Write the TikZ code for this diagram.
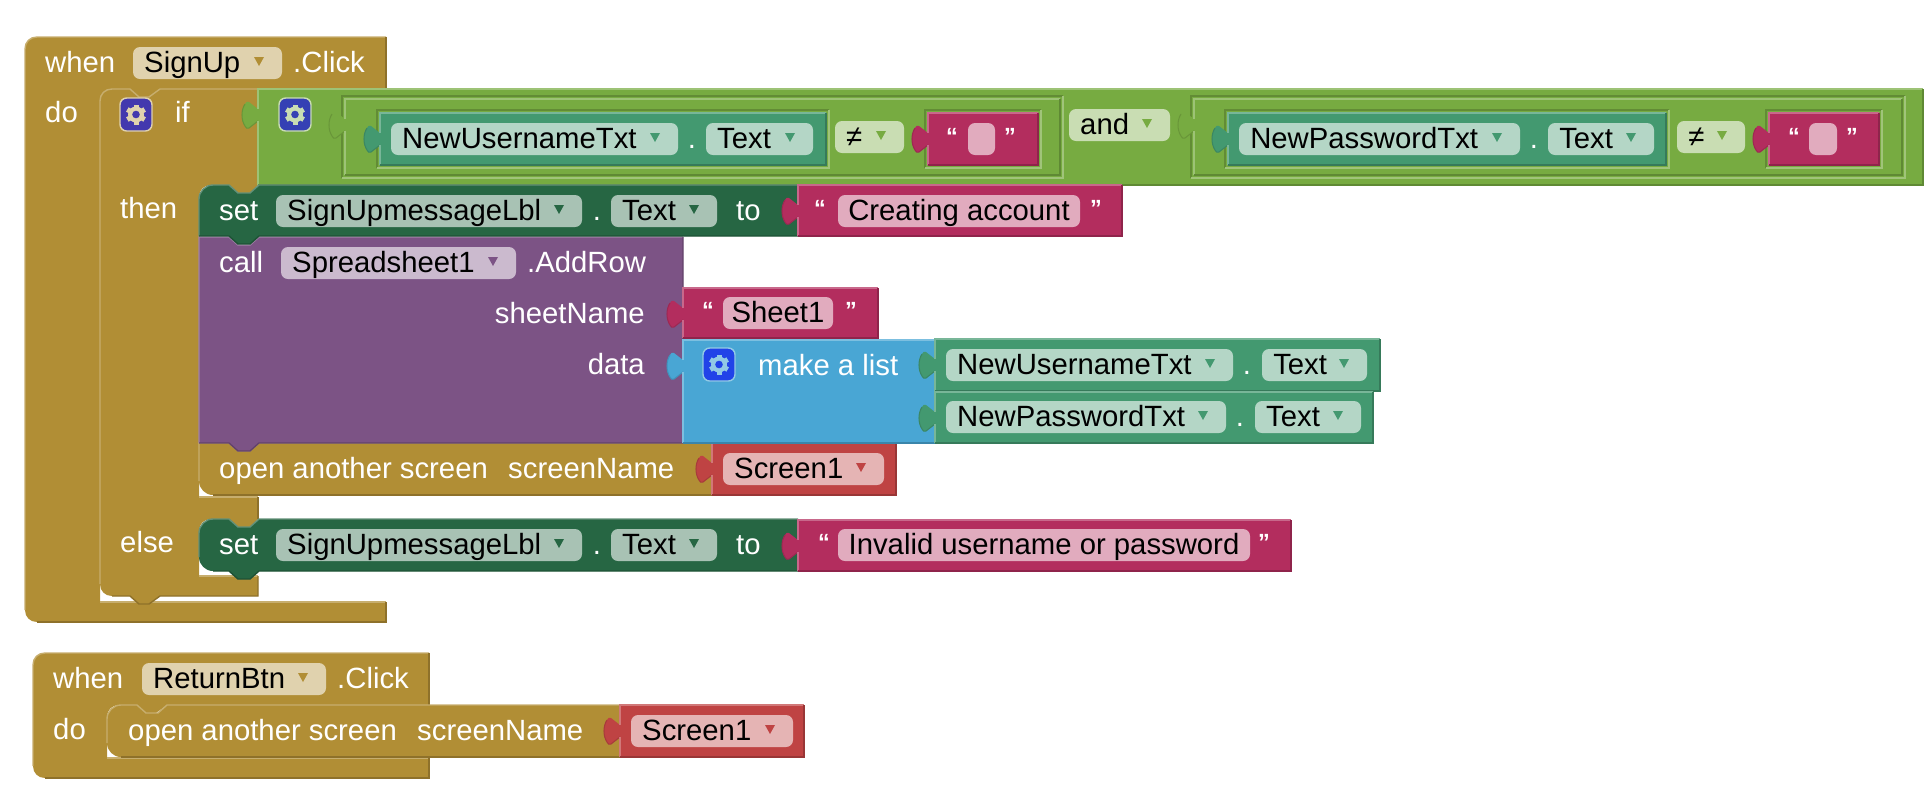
\documentclass[tikz,border=0pt]{standalone}
\usepackage{fontspec}
\setmainfont{Liberation Sans}

\definecolor{ctrlbrown}{HTML}{B18E35}
\definecolor{logicgreen}{HTML}{77AB41}
\definecolor{getteal}{HTML}{439970}
\definecolor{setgreen}{HTML}{266643}
\definecolor{textpink}{HTML}{B32D5E}
\definecolor{callpurple}{HTML}{7C5385}
\definecolor{listblue}{HTML}{49A6D4}
\definecolor{screenred}{HTML}{BF4343}
\definecolor{gearviolet}{HTML}{4338AE}
\definecolor{gearindigo}{HTML}{3540B4}
\definecolor{gearblue}{HTML}{2143E8}

% one value block with its puzzle tab on the left edge
\newcommand{\valblock}[5]{%
  \fill[#5] (#1,#2) -- (#3,#2) -- (#3,#4) -- (#1,#4) -- (#1,#2+32)
    -- (#1-9,#2+39) .. controls (#1-11,#2+40) and (#1-12,#2+39) .. (#1-13,#2+37)
    .. controls (#1-17,#2+31) and (#1-17,#2+21) .. (#1-13,#2+15)
    .. controls (#1-12,#2+13) and (#1-11,#2+12) .. (#1-9,#2+13) -- (#1,#2+20) -- cycle;
  \draw[softbevel, #5!88!black] (#1,#2+32)
    -- (#1-9,#2+39) .. controls (#1-11,#2+40) and (#1-12,#2+39) .. (#1-13,#2+37)
    .. controls (#1-17,#2+31) and (#1-17,#2+21) .. (#1-13,#2+15);
  \draw[bevel, #5!72!white] (#1,#2+20) -- (#1,#2) -- (#3,#2);
  \draw[bevel, #5!72!white] (#1,#2+32) -- (#1,#4);
  \draw[bevel, #5!80!black] (#3,#2) -- (#3,#4) -- (#1,#4);
}
% the inset round a value block plugged into a row
\newcommand{\socket}[5]{%
  \draw[softbevel, #5!82!black] (#1-3,#4+3) -- (#1-3,#2-3) -- (#3+3,#2-3);
  \draw[softbevel, #5!70!white] (#3+3,#2-3) -- (#3+3,#4+3) -- (#1-3,#4+3);
}
% statement block: x0,y0,x1,y1,colour,top radius,bottom radius,lobe depth
\newcommand{\stmtblock}[8]{%
  \fill[#5] (#1,#2+#6) .. controls (#1,#2+0.45*#6) and (#1+0.45*#6,#2) .. (#1+#6,#2)
    -- (#1+30,#2) -- (#1+39,#2+8) -- (#1+51,#2+8) -- (#1+60,#2) -- (#3,#2) -- (#3,#4)
    -- (#1+60,#4) -- (#1+51,#4+#8) -- (#1+39,#4+#8) -- (#1+30,#4) -- (#1+#7,#4)
    .. controls (#1+0.45*#7,#4) and (#1,#4-0.45*#7) .. (#1,#4-#7) -- cycle;
  \draw[bevel, #5!72!white] (#1,#4-#7) -- (#1,#2+#6)
    .. controls (#1,#2+0.45*#6) and (#1+0.45*#6,#2) .. (#1+#6,#2)
    -- (#1+30,#2) -- (#1+39,#2+8) -- (#1+51,#2+8) -- (#1+60,#2) -- (#3,#2);
  \draw[bevel, #5!80!black] (#3,#2) -- (#3,#4)
    -- (#1+60,#4) -- (#1+51,#4+#8) -- (#1+39,#4+#8) -- (#1+30,#4) -- (#1+#7,#4);
}
% dropdown field: name,x0,top,x1,text,fill,arrow colour
\newcommand{\field}[7]{%
  \fill[#6, rounded corners=0.21cm] (#2,#3) rectangle (#4,#3+32);
  \node[fieldtxt] (#1) at (#2+11,#3+25) {#5};
  \fill[#7] (#4-28,#3+10) -- (#4-18,#3+10) -- (#4-23,#3+19) -- cycle;
}
% string field: name,left quote,top,x0,x1,right quote,text
\newcommand{\strfield}[7]{%
  \fill[pinkfield, rounded corners=0.21cm] (#4,#3) rectangle (#5,#3+32);
  \node[fieldtxt, anchor=base] (#1) at ({(#4+#5)/2},#3+25) {#7};
  \node[quotetxt] (#1L) at (#2,#3+21) {“};
  \node[quotetxt] (#1R) at (#6,#3+21) {”};
}
% mutator button: x0,y0,fill,cog colour
\newcommand{\gearbtn}[4]{%
  \fill[#3, draw=#4, line width=1.2pt, rounded corners=0.2cm] (#1,#2) rectangle (#1+32,#2+33);
  \foreach \aa in {0,60,120} {
    \fill[#4, rotate around={\aa:(#1+16,#2+16.5)}] (#1+13.5,#2+6.5) rectangle (#1+18.5,#2+26.5);
  }
  \fill[#4] (#1+16,#2+16.5) circle[radius=8];
  \fill[#3] (#1+16,#2+16.5) circle[radius=3.8];
}

\colorlet{brownfield}{ctrlbrown!40!white}
\colorlet{greenfield}{logicgreen!40!white}
\colorlet{tealfield}{getteal!40!white}
\colorlet{setfield}{setgreen!40!white}
\colorlet{pinkfield}{textpink!40!white}
\colorlet{purplefield}{callpurple!40!white}
\colorlet{redfield}{screenred!40!white}

\begin{document}
\begin{tikzpicture}[
    x=0.03cm, y=-0.03cm,
    every node/.style={font=\fontsize{25}{30}\selectfont, inner sep=0pt},
    bevel/.style={line width=1.2pt},
    softbevel/.style={line width=0.9pt},
    blocktxt/.style={anchor=base west, text=white},
    fieldtxt/.style={anchor=base west, text=black},
    quotetxt/.style={anchor=base, text=white, font=\fontsize{20}{24}\selectfont\bfseries},
  ]
  \useasboundingbox (0,0) rectangle (1930,800);

  % ------------------------------------------------------------------
  % First event block and the if block in it
  % ------------------------------------------------------------------
  \fill[ctrlbrown] (25,49) .. controls (25,42) and (30,37) .. (37,37) -- (386,37) -- (386,89)
    -- (160,89) -- (149,97) -- (139,97) -- (130,89) -- (112,89)
    .. controls (105,89) and (100,94) .. (100,101) -- (100,602) -- (386,602) -- (386,622)
    -- (37,622) .. controls (30,622) and (25,617) .. (25,610) -- cycle;
  \draw[bevel, ctrlbrown!72!white] (25,610) -- (25,49) .. controls (25,42) and (30,37) .. (37,37) -- (386,37);
  \draw[bevel, ctrlbrown!72!white] (100,602) -- (386,602);
  \draw[bevel, ctrlbrown!80!black] (386,37) -- (386,89) -- (258,89);
  \draw[bevel, ctrlbrown!80!black] (386,602) -- (386,622) -- (37,622);

  \fill[ctrlbrown] (100,101) .. controls (100,94) and (105,89) .. (112,89) -- (130,89) -- (139,97)
    -- (149,97) -- (160,89) -- (258,89) -- (258,185) -- (250,193) -- (238,193) -- (229,185)
    -- (211,185) .. controls (204,185) and (199,190) .. (199,197) -- (199,497) -- (258,497)
    -- (258,519) -- (250,527) -- (238,527) -- (229,519) -- (211,519)
    .. controls (204,519) and (199,524) .. (199,531) -- (199,576) -- (258,576) -- (258,596)
    -- (160,596) -- (149,604) -- (139,604) -- (130,596) -- (112,596)
    .. controls (105,596) and (100,591) .. (100,584) -- cycle;
  \draw[bevel, ctrlbrown!72!white] (100,584) -- (100,101) .. controls (100,94) and (105,89) .. (112,89)
    -- (130,89) -- (139,97) -- (149,97) -- (160,89) -- (258,89);
  \draw[bevel, ctrlbrown!72!white] (199,497) -- (258,497);
  \draw[bevel, ctrlbrown!72!white] (199,576) -- (258,576);
  \draw[bevel, ctrlbrown!80!black] (258,497) -- (258,519);
  \draw[bevel, ctrlbrown!80!black] (258,576) -- (258,596) -- (160,596) -- (149,604) -- (139,604) -- (130,596) -- (112,596);

  \gearbtn{120}{98}{gearviolet}{brownfield}
  \node[blocktxt] (whenA) at (45,72) {when};
  \field{signupFld}{133}{47}{282}{SignUp}{brownfield}{ctrlbrown}
  \node[blocktxt] (clickA) at (293,72) {.Click};
  \node[blocktxt] (doA) at (45,122) {do};
  \node[blocktxt] (ifLbl) at (175,122) {if};
  \node[blocktxt] (thenLbl) at (120,218) {then};
  \node[blocktxt] (elseLbl) at (120,552) {else};

  % ------------------------------------------------------------------
  % Condition row
  % ------------------------------------------------------------------
  \valblock{258}{89}{1923}{185}{logicgreen}
  \gearbtn{279}{98}{gearindigo}{greenfield}

  \socket{345}{99}{1060}{175}{logicgreen}
  \valblock{345}{99}{1060}{175}{logicgreen}
  \socket{380}{113}{826}{165}{logicgreen}
  \valblock{380}{113}{826}{165}{getteal}
  \field{userFldA}{391}{123}{678}{NewUsernameTxt}{tealfield}{getteal}
  \node[blocktxt, anchor=base] (dotA) at (692,148) {.};
  \field{textFldA}{706}{123}{813}{Text}{tealfield}{getteal}
  \field{neqFldA}{835}{121}{904}{≠}{greenfield}{logicgreen}
  \socket{928}{113}{1038}{165}{logicgreen}
  \valblock{928}{113}{1038}{165}{textpink}
  \strfield{emptyA}{952}{123}{968}{995}{1010}{}

  \field{andFld}{1069}{109}{1170}{and}{greenfield}{logicgreen}

  \socket{1194}{99}{1902}{175}{logicgreen}
  \valblock{1194}{99}{1902}{175}{logicgreen}
  \socket{1228}{113}{1666}{165}{logicgreen}
  \valblock{1228}{113}{1666}{165}{getteal}
  \field{passFldA}{1239}{123}{1520}{NewPasswordTxt}{tealfield}{getteal}
  \node[blocktxt, anchor=base] (dotB) at (1534,148) {.};
  \field{textFldB}{1548}{123}{1654}{Text}{tealfield}{getteal}
  \field{neqFldB}{1677}{121}{1745}{≠}{greenfield}{logicgreen}
  \socket{1769}{113}{1879}{165}{logicgreen}
  \valblock{1769}{113}{1879}{165}{textpink}
  \strfield{emptyB}{1794}{123}{1809}{1837}{1852}{}

  % ------------------------------------------------------------------
  % then: bottom block first, so each lobe lies on the one below it
  % ------------------------------------------------------------------
  \stmtblock{199}{443}{712}{495}{ctrlbrown}{0}{14}{0}
  \node[blocktxt] (openA) at (219,478) {open another screen};
  \node[blocktxt] (nameA) at (508,478) {screenName};
  \valblock{712}{443}{896}{495}{screenred}
  \field{screenFldA}{723}{453}{884}{Screen1}{redfield}{screenred}

  \stmtblock{199}{237}{683}{443}{callpurple}{0}{0}{8}
  \node[blocktxt] (callLbl) at (219,272) {call};
  \field{sheetFld}{281}{247}{516}{Spreadsheet1}{purplefield}{callpurple}
  \node[blocktxt] (addRow) at (527,272) {.AddRow};
  \node[blocktxt, anchor=base east] (sheetName) at (645,323) {sheetName};
  \node[blocktxt, anchor=base east] (dataLbl) at (645,374) {data};

  \valblock{683}{288}{878}{338}{textpink}
  \strfield{sheetStr}{708}{297}{723}{833}{851}{Sheet1}

  \valblock{683}{340}{935}{443}{listblue}
  \gearbtn{703}{348}{gearblue}{listblue!60!white}
  \node[blocktxt] (listLbl) at (758,375) {make a list};
  \valblock{935}{339}{1380}{391}{getteal}
  \field{userFldB}{946}{349}{1233}{NewUsernameTxt}{tealfield}{getteal}
  \node[blocktxt, anchor=base] (dotC) at (1247,374) {.};
  \field{textFldC}{1262}{349}{1367}{Text}{tealfield}{getteal}
  \valblock{935}{392}{1373}{443}{getteal}
  \field{passFldB}{946}{401}{1226}{NewPasswordTxt}{tealfield}{getteal}
  \node[blocktxt, anchor=base] (dotD) at (1240,426) {.};
  \field{textFldD}{1255}{401}{1361}{Text}{tealfield}{getteal}

  \stmtblock{199}{185}{798}{236}{setgreen}{14}{0}{8}
  \node[blocktxt] (setA) at (219,220) {set};
  \field{msgFldA}{276}{195}{582}{SignUpmessageLbl}{setfield}{setgreen}
  \node[blocktxt, anchor=base] (dotE) at (597,220) {.};
  \field{textFldE}{611}{195}{717}{Text}{setfield}{setgreen}
  \node[blocktxt] (toA) at (736,220) {to};
  \valblock{798}{185}{1122}{236}{textpink}
  \strfield{creatingStr}{820}{195}{838}{1080}{1096}{Creating account}

  % ------------------------------------------------------------------
  % else
  % ------------------------------------------------------------------
  \stmtblock{199}{519}{798}{571}{setgreen}{14}{14}{8}
  \node[blocktxt] (setB) at (219,554) {set};
  \field{msgFldB}{276}{529}{582}{SignUpmessageLbl}{setfield}{setgreen}
  \node[blocktxt, anchor=base] (dotF) at (597,554) {.};
  \field{textFldF}{611}{529}{717}{Text}{setfield}{setgreen}
  \node[blocktxt] (toB) at (736,554) {to};
  \valblock{798}{520}{1291}{571}{textpink}
  \strfield{invalidStr}{824}{529}{838}{1250}{1264}{Invalid username or password}

  % ------------------------------------------------------------------
  % Second event block
  % ------------------------------------------------------------------
  \fill[ctrlbrown] (33,665) .. controls (33,658) and (38,653) .. (45,653) -- (429,653) -- (429,705)
    -- (167,705) -- (156,713) -- (146,713) -- (137,705) -- (119,705)
    .. controls (112,705) and (107,710) .. (107,717) -- (107,757) -- (429,757) -- (429,778)
    -- (45,778) .. controls (38,778) and (33,773) .. (33,766) -- cycle;
  \draw[bevel, ctrlbrown!72!white] (33,766) -- (33,665) .. controls (33,658) and (38,653) .. (45,653) -- (429,653);
  \draw[bevel, ctrlbrown!80!black] (429,653) -- (429,705);
  \draw[bevel, ctrlbrown!72!white] (107,758) -- (429,758);
  \draw[bevel, ctrlbrown!80!black] (429,757) -- (429,778) -- (45,778);
  \node[blocktxt] (whenB) at (53,688) {when};
  \field{returnFld}{142}{663}{326}{ReturnBtn}{brownfield}{ctrlbrown}
  \node[blocktxt] (clickB) at (337,688) {.Click};
  \node[blocktxt] (doB) at (53,739) {do};

  \stmtblock{107}{705}{620}{757}{ctrlbrown}{14}{14}{0}
  \node[blocktxt] (openB) at (128,740) {open another screen};
  \node[blocktxt] (nameB) at (417,740) {screenName};
  \valblock{620}{705}{804}{757}{screenred}
  \field{screenFldB}{631}{715}{793}{Screen1}{redfield}{screenred}

\end{tikzpicture}
\end{document}
